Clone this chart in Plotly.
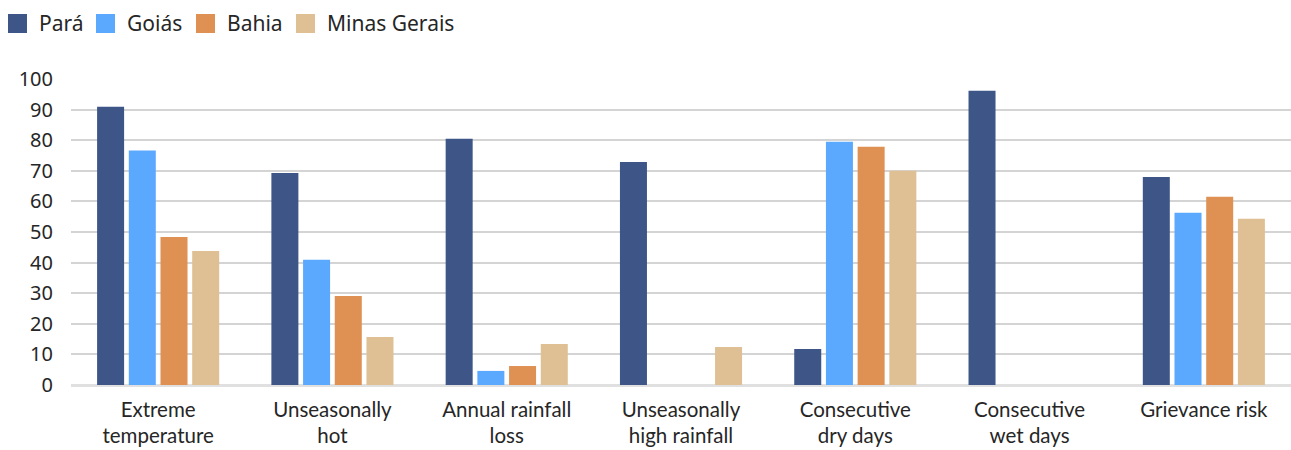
import plotly.graph_objects as go

categories = [
    "Extreme<br>temperature",
    "Unseasonally<br>hot",
    "Annual rainfall<br>loss",
    "Unseasonally<br>high rainfall",
    "Consecutive<br>dry days",
    "Consecutive<br>wet days",
    "Grievance risk",
]

para = [90.9, 69.3, 80.5, 72.9, 11.8, 96.2, 68.0]
goias = [76.6, 40.9, 4.6, None, 79.5, None, 56.3]
bahia = [48.4, 29.1, 6.2, None, 77.9, None, 61.5]
minas = [43.8, 15.7, 13.4, 12.4, 70.0, None, 54.3]

series_names = ["Pará", "Goiás", "Bahia", "Minas Gerais"]
series_values = [para, goias, bahia, minas]
series_colors = ["#3e5687", "#5aa9fe", "#df9053", "#dec094"]

y_ticks = [0, 10, 20, 30, 40, 50, 60, 70, 80, 90, 100]

LABEL_FONT = "Lato, sans-serif"
BODY_FONT = "Noto Sans, sans-serif"
TEXT = "#262626"

fig = go.Figure()
for name, vals, col in zip(series_names, series_values, series_colors):
    fig.add_trace(go.Bar(
        x=categories, y=vals, name=name,
        marker=dict(color=col, line=dict(width=0)),
        showlegend=False,
    ))

# Plot area geometry in pixels (used to place the custom legend)
W, H = 1291, 450
ML, MR, MT, MB = 71, 0, 79, 65
pw, ph = W - ML - MR, H - MT - MB

def px_x(x):
    return (x - ML) / pw

def px_y(y):
    return (H - MB - y) / ph

legend_keys = [8, 96, 196, 296]
key_size = 19
key_top = 14
shapes = []
annotations = []
for kx, name, col in zip(legend_keys, series_names, series_colors):
    shapes.append(dict(
        type="rect", xref="paper", yref="paper",
        x0=px_x(kx), x1=px_x(kx + key_size),
        y0=px_y(key_top + key_size), y1=px_y(key_top),
        fillcolor=col, line=dict(width=0),
    ))
    annotations.append(dict(
        xref="paper", yref="paper",
        x=px_x(kx + key_size + 10), y=px_y(key_top + key_size / 2),
        xanchor="left", yanchor="middle", showarrow=False,
        text=name, font=dict(family=BODY_FONT, size=21, color=TEXT),
    ))

fig.update_layout(
    width=W, height=H,
    margin=dict(l=ML, r=MR, t=MT, b=MB, pad=0),
    paper_bgcolor="white", plot_bgcolor="white",
    barmode="group", bargap=0.2725, bargroupgap=0.148,
    font=dict(family=BODY_FONT, size=20, color=TEXT),
    shapes=shapes, annotations=annotations,
    xaxis=dict(
        showgrid=False, showline=False, ticks="", ticklabelstandoff=10,
        tickfont=dict(family=LABEL_FONT, size=20.5, color=TEXT),
    ),
    yaxis=dict(
        range=[0, 100], tickvals=y_ticks,
        showgrid=True, gridcolor="#d4d4d4", gridwidth=1.5,
        zeroline=True, zerolinecolor="#e0e0e0", zerolinewidth=2.5,
        showline=False, ticks="", ticklabelstandoff=17,
        tickfont=dict(family=BODY_FONT, size=20, color=TEXT),
    ),
)

fig.write_html("out.html")
